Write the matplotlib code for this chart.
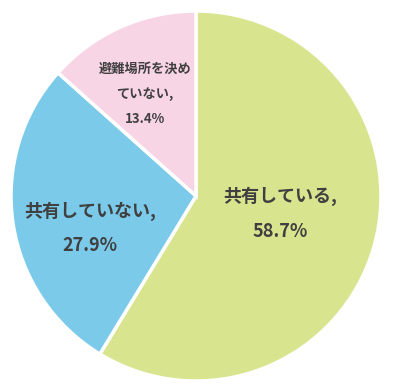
import matplotlib
matplotlib.use("Agg")
import matplotlib.pyplot as plt

plt.rcParams["font.family"] = ["Noto Sans CJK JP", "DejaVu Sans"]

labels = ["共有している", "共有していない", "避難場所を決め\nていない"]
values = [58.7, 27.9, 13.4]
colors = ["#d9e48f", "#7bcaea", "#f8d5e5"]

W, H = 393, 389
fig = plt.figure(figsize=(W / 100, H / 100), dpi=100)
ax = fig.add_axes([0, 0, 1, 1])

# pixel coords from the top-left, flipped to y-up
def py(y):
    return H - y

cx, cy, r = 196, 196, 185
ax.pie(values, colors=colors, startangle=90, counterclock=False,
       center=(cx, py(cy)), radius=r, frame=True,
       wedgeprops=dict(edgecolor="white", linewidth=2.5))
ax.set_xlim(0, W)
ax.set_ylim(0, H)
ax.axis("off")

txt = "#404040"
big = dict(ha="center", va="center", fontsize=13, fontweight="bold", color=txt)
small = dict(ha="center", va="center", fontsize=9.5, fontweight="bold", color=txt)
ax.text(280, py(196), f"{labels[0]},", **big)
ax.text(280, py(231), f"{values[0]}%", **big)
ax.text(90, py(211), f"{labels[1]},", **big)
ax.text(90, py(245), f"{values[1]}%", **big)
l3a, l3b = labels[2].split("\n")
ax.text(145, py(69), l3a, **small)
ax.text(145, py(94), f"{l3b},", **small)
ax.text(145, py(119), f"{values[2]}%", **small)

fig.savefig("out.png", dpi=100, facecolor="white")
